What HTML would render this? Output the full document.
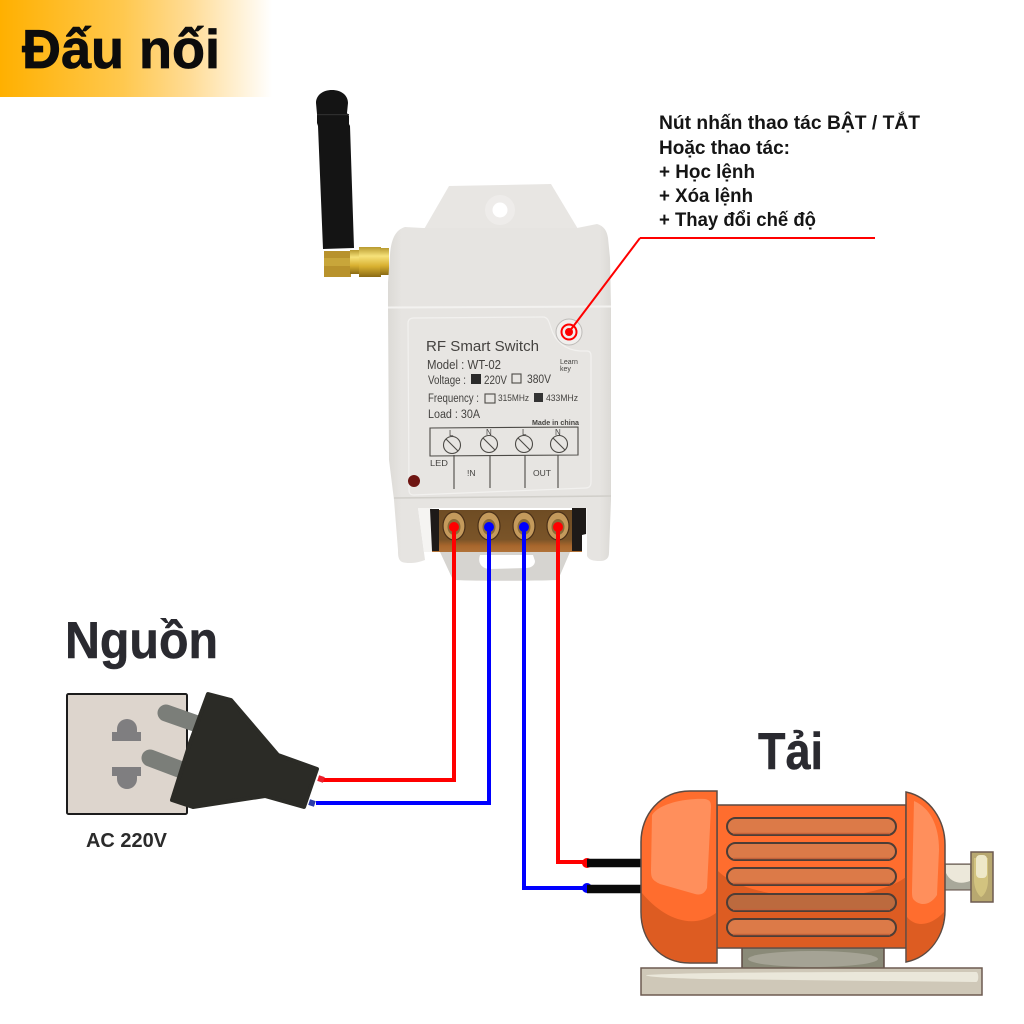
<!DOCTYPE html>
<html><head><meta charset="utf-8"><style>html,body{margin:0;padding:0;background:#fff}svg{display:block}text{font-family:"Liberation Sans","DejaVu Sans",sans-serif}</style></head><body>
<svg xmlns="http://www.w3.org/2000/svg" width="1024" height="1024" viewBox="0 0 1024 1024">
<defs>
<linearGradient id="hd" x1="0" x2="1" y1="0" y2="0"><stop offset="0" stop-color="#ffb000"/><stop offset=".45" stop-color="#ffc84e"/><stop offset=".7" stop-color="#ffdc96"/><stop offset="1" stop-color="#fff"/></linearGradient>
<linearGradient id="bd" x1="0" x2="1" y1="0" y2="0"><stop offset="0" stop-color="#dcdad6"/><stop offset=".06" stop-color="#e6e4e1"/><stop offset=".95" stop-color="#e6e4e1"/><stop offset="1" stop-color="#dcdad6"/></linearGradient>
<linearGradient id="gold" x1="0" x2="0" y1="0" y2="1"><stop offset="0" stop-color="#b89a30"/><stop offset=".3" stop-color="#f6e27a"/><stop offset=".65" stop-color="#d8b030"/><stop offset="1" stop-color="#8a6a14"/></linearGradient>
<linearGradient id="tb" x1="0" x2="0" y1="0" y2="1"><stop offset="0" stop-color="#6e4c24"/><stop offset=".7" stop-color="#7a5428"/><stop offset=".85" stop-color="#a8662c"/><stop offset="1" stop-color="#b07238"/></linearGradient>
<filter id="s"><feGaussianBlur stdDeviation=".3"/></filter>
</defs>
<rect x="0" y="0" width="272" height="97" fill="url(#hd)"/>
<text x="22" y="68" font-size="55" font-weight="700" fill="#0c0c0c" stroke="#0c0c0c" stroke-width=".8" textLength="198" lengthAdjust="spacingAndGlyphs">Đấu nối</text>

<!-- antenna -->
<path d="M316 103C316 95 323 90 332 90C341 90 348 95 348 103L347 113L349 116L349 124L350 126L354 248L323 249L318 126L317 123L317 114Z" fill="#141414"/>
<rect x="317" y="114" width="32" height="1.2" fill="#2e2e2e"/>
<rect x="324" y="251" width="27" height="26" fill="#b8922c"/>
<rect x="324" y="258" width="27" height="8" fill="#c8a63a"/>
<rect x="350" y="250" width="10" height="24" fill="url(#gold)"/>
<rect x="359" y="247" width="22" height="30" fill="url(#gold)"/>
<rect x="380" y="248" width="9" height="27" fill="url(#gold)"/>

<!-- module -->
<path d="M449 186L551 184L578 229L423 231Z" fill="#e8e6e3"/>
<circle cx="500" cy="210" r="15" fill="#eeecea"/>
<circle cx="500" cy="210" r="7.5" fill="#fff"/>
<path d="M388 308L388 282L390 255C391 240 395 230 405 227L423 228L577 228L597 224C604 226 607 231 608 238L610 258L611 308Z" fill="url(#bd)"/>
<path d="M440 552L570 552L558 580C530 581 480 581 453 580Z" fill="#d6d4d0"/>
<path d="M388 308L611 308L611 500L609 553C609 558 606 561 600 561C593 561 589 560 587 556L587 508L418 508L425 560C418 563 408 564 402 562C398 560 398 555 398 550L394 500L389 460Z" fill="url(#bd)"/>
<path d="M388 307.5L611 306.5" stroke="#f3f2f0" stroke-width="2" fill="none"/>
<path d="M394 498L611 496" stroke="#d0cec9" stroke-width="1.5" fill="none"/>
<path d="M414 318L543 317C548 317 549 322 551 328C555 342 566 350 580 351L587 351C590 351 591 353 591 356L591 482C591 486 589 488 586 488L414 495C410 495 409 493 409 490L408 323C408 320 410 318 414 318Z" fill="#e7e5e2" stroke="#f2f1ef" stroke-width="1.2"/>
<rect x="432" y="510" width="150" height="42" fill="url(#tb)"/>
<path d="M418 508H432V552H424ZM582 508H587V534H582Z" fill="#f5f4f2"/>
<path d="M430 509L439 509L439 551L432 551ZM572 508L586 508L586 534L582 535L582 551L572 551Z" fill="#1e1a18"/>
<g fill="#c49a5c" stroke="#4a3018" stroke-width="1.2"><ellipse cx="454" cy="526" rx="11" ry="14"/><ellipse cx="489" cy="526" rx="11" ry="14"/><ellipse cx="524" cy="526" rx="11" ry="14"/><ellipse cx="558" cy="526" rx="11" ry="14"/></g>
<g fill="#8a6a38"><ellipse cx="454" cy="527" rx="6.5" ry="8"/><ellipse cx="489" cy="527" rx="6.5" ry="8"/><ellipse cx="524" cy="527" rx="6.5" ry="8"/><ellipse cx="558" cy="527" rx="6.5" ry="8"/></g>
<path d="M480 555L533 555L535 561C535 566 530 568 526 568L490 569C483 569 477 564 480 555Z" fill="#fff"/>

<circle cx="569" cy="332" r="13" fill="#f1efed" stroke="#bdbbb8"/>
<circle cx="414" cy="481" r="6" fill="#6e1512"/>

<g fill="#444340" filter="url(#s)">
<text x="426" y="351" font-size="15" textLength="113" lengthAdjust="spacingAndGlyphs">RF Smart  Switch</text>
<text x="427" y="369" font-size="12.5" textLength="74" lengthAdjust="spacingAndGlyphs">Model : WT-02</text>
<text x="428" y="384" font-size="11.5" textLength="38" lengthAdjust="spacingAndGlyphs">Voltage :</text>
<text x="484" y="384" font-size="11.5" textLength="23" lengthAdjust="spacingAndGlyphs">220V</text>
<text x="527" y="383" font-size="11.5" textLength="24" lengthAdjust="spacingAndGlyphs">380V</text>
<text x="428" y="402" font-size="11.5" textLength="51" lengthAdjust="spacingAndGlyphs">Frequency :</text>
<text x="498" y="401" font-size="9.5" textLength="31" lengthAdjust="spacingAndGlyphs">315MHz</text>
<text x="546" y="401" font-size="9.5" textLength="32" lengthAdjust="spacingAndGlyphs">433MHz</text>
<text x="428" y="418" font-size="11.5" textLength="52" lengthAdjust="spacingAndGlyphs">Load : 30A</text>
<text x="560" y="364" font-size="7">Learn</text>
<text x="560" y="371" font-size="7">key</text>
<text x="532" y="425" font-size="7.5" textLength="47" lengthAdjust="spacingAndGlyphs" font-weight="700">Made in china</text>
<text x="430" y="466" font-size="8.5" textLength="18" lengthAdjust="spacingAndGlyphs">LED</text>
<text x="467" y="476" font-size="8.5">!N</text>
<text x="533" y="476" font-size="8.5" textLength="18" lengthAdjust="spacingAndGlyphs">OUT</text>
<text x="449" y="436" font-size="8">L</text><text x="486" y="435" font-size="8">N</text><text x="522" y="435" font-size="8">L</text><text x="555" y="435" font-size="8">N</text>
</g>
<g fill="none" stroke="#4c4a46" stroke-width="1.1">
<path d="M430 428L578 427L578 455L430 456Z"/>
<circle cx="452" cy="445" r="8.5"/><circle cx="489" cy="444" r="8.5"/><circle cx="524" cy="444" r="8.5"/><circle cx="559" cy="444" r="8.5"/>
<path d="M446 439L458 451M483 438L495 450M518 438L530 450M553 438L565 450M454 455V489M490 455V488M525 455V488M558 455V488"/>
<rect x="512" y="374" width="9" height="9"/><rect x="485" y="394" width="10" height="9"/>
</g>
<rect x="471" y="374" width="10" height="10" fill="#2a2a2a"/><rect x="534" y="393" width="9" height="9" fill="#333"/>

<!-- wires -->
<g fill="none" stroke-width="4">
<path d="M322 780H454V527M558 527V862H587" stroke="#f00"/>
<path d="M316 803H489V527M524 527V888H587" stroke="#00f"/>
</g>
<g fill="#f00"><circle cx="454" cy="527" r="5"/><circle cx="558" cy="527" r="5"/><circle cx="587" cy="863" r="5"/></g>
<g fill="#00f"><circle cx="489" cy="527" r="5"/><circle cx="524" cy="527" r="5"/><circle cx="587" cy="888" r="5"/></g>
<path d="M587 863H642M587 889H642" stroke="#0a0a0a" stroke-width="8.5"/>
<path d="M640 238H875M640 238L569 332" fill="none" stroke="#f00" stroke-width="2"/>
<circle cx="569" cy="332" r="7.5" fill="none" stroke="#f00" stroke-width="2"/>
<circle cx="569" cy="332" r="4" fill="#f00"/>

<!-- socket and plug -->
<rect x="67" y="694" width="120" height="120" rx="1.5" fill="#ddd5cd" stroke="#1c1c1c" stroke-width="2"/>
<path d="M112 741V732H117V729A10 10 0 0 1 137 729V732H141V741Z M112 767H141V776H137V779A10 10 0 0 1 117 779V776H112Z" fill="#7f7e80"/>
<path d="M166 713L203 726M150 758L187 772" stroke="#7b7e79" stroke-width="17" stroke-linecap="round"/>
<path d="M208 694L231 700L278 755L317 769L304 807L265 796L193 807L172 800L190 743Z" fill="#2b2b26" stroke="#2b2b26" stroke-width="4" stroke-linejoin="round"/>
<rect x="318" y="776" width="6" height="6" fill="#e8202c" transform="rotate(18 321 779)"/>
<rect x="309" y="800" width="6" height="6" fill="#2c3ca8" transform="rotate(18 312 803)"/>

<!-- motor -->
<rect x="742" y="946" width="142" height="23" fill="#8a8a78" stroke="#5c4a42" stroke-width="1.5"/>
<ellipse cx="813" cy="959" rx="65" ry="8" fill="#a5a395"/>
<rect x="641" y="968" width="341" height="27" fill="#cfc8b8" stroke="#6d5a50" stroke-width="1.5"/>
<path d="M646 975C700 972 850 972 976 972C979 972 979 982 976 982L700 979C670 978 646 977 646 975Z" fill="#eae7da"/>
<rect x="945" y="864" width="26" height="26" fill="#a8a89a" stroke="#5c4a42"/>
<path d="M946 865H970V881C960 885 950 882 946 873Z" fill="#ece8da"/>
<rect x="971" y="852" width="22" height="50" fill="#b8a870" stroke="#6d5a50" stroke-width="1.5"/>
<path d="M974 858H988V880C988 892 982 897 981 897C978 895 974 888 974 880Z" fill="#d2c37f"/>
<rect x="976" y="855" width="11" height="23" rx="4" fill="#eee8c8"/>

<rect x="717" y="805" width="189" height="143" fill="#ff6d2e" stroke="#5c4a42" stroke-width="1.5"/>
<path d="M717 870C750 905 870 905 906 877V947H717Z" fill="#dd5c22"/>
<path d="M762 896C790 902 840 902 868 896L860 900H770Z" fill="#e67240"/>
<g fill="#dc7a48" stroke="#4d3d36" stroke-width="2">
<rect x="727" y="818" width="169" height="17" rx="8.5"/>
<rect x="727" y="843" width="169" height="17" rx="8.5"/>
<rect x="727" y="868" width="169" height="17" rx="8.5"/>
<rect x="727" y="894" width="169" height="17" rx="8.5" fill="#bc6a3e"/>
<rect x="727" y="919" width="169" height="17" rx="8.5"/>
</g>
<g fill="none" stroke="#c4623a" stroke-width="1.6"><path d="M733 833.5H890M733 858.5H890M733 883.5H890M733 909.5H890M733 934.5H890"/></g>
<path d="M717 791H690C660 791 641 815 641 842V912C641 940 660 963 690 963H717Z" fill="#ff6d2e" stroke="#5c4a42" stroke-width="1.5"/>
<path d="M642 893C660 915 690 932 716 913V962H690C660 962 642 940 642 912Z" fill="#dd5c22"/>
<path d="M652 815C660 802 690 798 705 799C710 800 711 802 711 807L707 888C704 895 699 895 695 894L660 884C652 880 651 878 651 870Z" fill="#ff8f5c"/>
<path d="M906 792C930 797 945 820 945 845V910C945 935 930 957 906 962Z" fill="#ff6d2e" stroke="#5c4a42" stroke-width="1.5"/>
<path d="M907 917C915 927 930 927 944 912C944 935 930 956 907 961Z" fill="#dd5c22"/>
<path d="M914 801C930 808 939 825 939 850L937 895C930 906 920 906 914 900C912 898 912 895 912 890Z" fill="#ff8f5c"/>

<!-- labels -->
<g fill="#151515" font-weight="700">
<text x="659" y="129" font-size="19" textLength="261" lengthAdjust="spacingAndGlyphs">Nút nhấn thao tác BẬT / TẮT</text>
<text x="659" y="154" font-size="19" textLength="131" lengthAdjust="spacingAndGlyphs">Hoặc thao tác:</text>
<text x="659" y="178" font-size="19" textLength="96" lengthAdjust="spacingAndGlyphs">+ Học lệnh</text>
<text x="659" y="202" font-size="19" textLength="94" lengthAdjust="spacingAndGlyphs">+ Xóa lệnh</text>
<text x="659" y="226" font-size="19" textLength="157" lengthAdjust="spacingAndGlyphs">+ Thay đổi chế độ</text>
<text x="86" y="847" font-size="20" textLength="81" lengthAdjust="spacingAndGlyphs" fill="#2b2b2b">AC 220V</text>
</g>
<g fill="#2a2a30" font-weight="700" stroke="#2a2a30" stroke-width=".5">
<text x="65" y="658" font-size="52" textLength="153" lengthAdjust="spacingAndGlyphs">Nguồn</text>
<text x="758" y="769" font-size="52" textLength="65" lengthAdjust="spacingAndGlyphs">Tải</text>
</g>
</svg>
</body></html>
